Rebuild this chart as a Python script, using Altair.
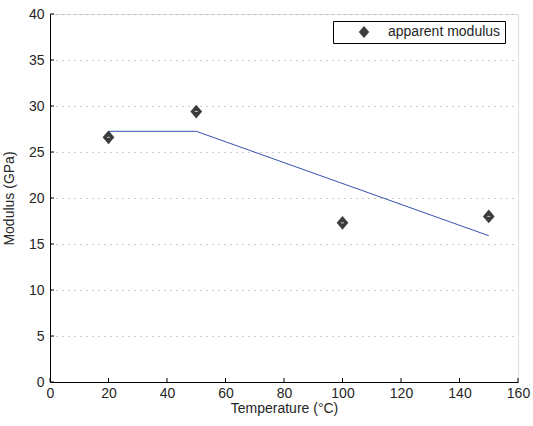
import altair as alt
import pandas as pd

temps = [20, 50, 100, 150]
modulus = [26.6, 29.4, 17.3, 18.0]
fit_t = [20, 50, 150]
fit_m = [27.25, 27.25, 15.9]
x_ticks = [0, 20, 40, 60, 80, 100, 120, 140, 160]
y_ticks = [0, 5, 10, 15, 20, 25, 30, 35, 40]
series_name = "apparent modulus"

W, H = 468, 368
FONT = "Liberation Sans"
TXT = "#262626"
FS = 14

pts = pd.DataFrame({"t": temps, "m": modulus, "s": [series_name] * len(temps)})
fit = pd.DataFrame({"t": fit_t, "m": fit_m})
xt = pd.DataFrame({"v": x_ticks})
yt = pd.DataFrame({"v": y_ticks})

xsc = alt.Scale(domain=[0, 160], nice=False, zero=False)
ysc = alt.Scale(domain=[0, 40], nice=False, zero=False)

xaxis = alt.Axis(values=x_ticks, title="Temperature (°C)", grid=False, tickSize=0,
                 labelPadding=4, titlePadding=1, domainColor="#000", labelFontSize=FS,
                 titleFontSize=FS, labelColor=TXT, titleColor=TXT, labelFont=FONT,
                 titleFont=FONT, titleFontWeight="normal", labelFlush=False)
yaxis = alt.Axis(values=y_ticks, title="Modulus (GPa)", grid=True, gridDash=[1, 5],
                 gridColor="#9a9a9a", gridWidth=1, tickSize=0, labelPadding=6,
                 titlePadding=12, domainColor="#000", labelFontSize=FS, titleFontSize=FS,
                 labelColor=TXT, titleColor=TXT, labelFont=FONT, titleFont=FONT,
                 titleFontWeight="normal", labelFlush=False)

base_axes = alt.Chart(yt).mark_rule(opacity=0).encode(
    x=alt.X("v:Q", scale=xsc, axis=xaxis),
    y=alt.Y("v:Q", scale=ysc, axis=yaxis),
)

line = alt.Chart(fit).mark_line(color="#3352b5", strokeWidth=1).encode(
    x=alt.X("t:Q", scale=xsc), y=alt.Y("m:Q", scale=ysc)
)

diamond = "M0,-1L0.85,0L0,1L-0.85,0Z"
points = alt.Chart(pts).mark_point(filled=True, opacity=1, size=190, shape=diamond).encode(
    x=alt.X("t:Q", scale=xsc),
    y=alt.Y("m:Q", scale=ysc),
    color=alt.Color("s:N", scale=alt.Scale(domain=[series_name], range=["#3c3c3c"]),
                    legend=alt.Legend(title=None, orient="none", legendX=283, legendY=7,
                                      strokeColor="#000", fillColor="#fff", padding=4,
                                      symbolType=diamond, symbolSize=150,
                                      symbolOffset=20, labelOffset=17,
                                      labelFontSize=FS, labelFont=FONT, labelColor=TXT,
                                      symbolStrokeWidth=0)),
)

dash = alt.Chart(pts).mark_tick(color="#ffffff", thickness=1, size=3, orient="horizontal").encode(
    x=alt.X("t:Q", scale=xsc), y=alt.Y("m:Q", scale=ysc)
)

xtick = alt.Chart(xt).mark_rule(color="#000", strokeWidth=1).encode(
    x=alt.X("v:Q", scale=xsc), y=alt.value(H), y2=alt.value(H - 4)
)
ytick = alt.Chart(yt).mark_rule(color="#000", strokeWidth=1).encode(
    y=alt.Y("v:Q", scale=ysc), x=alt.value(0), x2=alt.value(4)
)

chart = alt.layer(base_axes, line, points, dash, xtick, ytick).properties(
    width=W, height=H,
    autosize=alt.AutoSizeParams(type="none"),
    padding={"left": 50, "top": 14, "right": 15, "bottom": 44},
).configure_view(stroke=None).configure(background="white")

chart.save("out.html", embed_options={"renderer": "svg", "actions": False})
